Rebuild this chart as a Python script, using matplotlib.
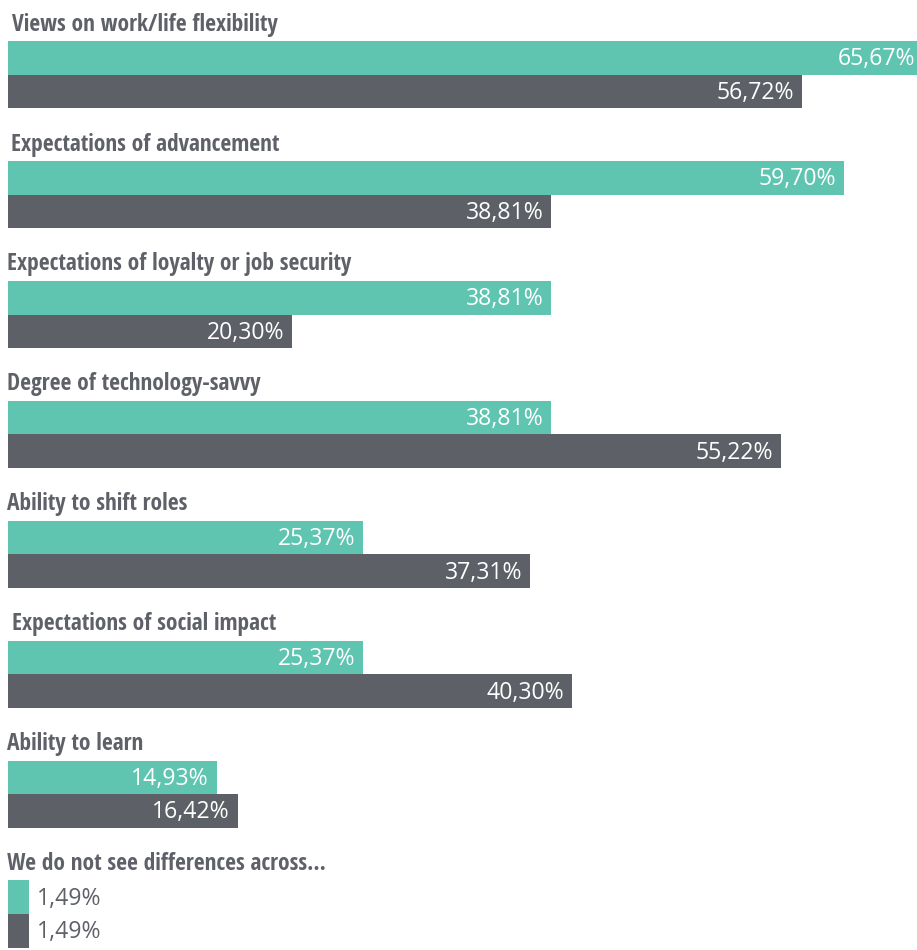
import matplotlib
matplotlib.use("Agg")
import matplotlib.pyplot as plt
import numpy as np
from matplotlib import transforms

# Survey answers, two respondent groups per statement (percent)
categories = [
    "Views on work/life flexibility",
    "Expectations of advancement",
    "Expectations of loyalty or job security",
    "Degree of technology-savvy",
    "Ability to shift roles",
    "Expectations of social impact",
    "Ability to learn",
    "We do not see differences across...",
]
share_a = [65.67, 59.70, 38.81, 38.81, 25.37, 25.37, 14.93, 1.49]
share_b = [56.72, 38.81, 20.30, 55.22, 37.31, 40.30, 16.42, 1.49]

# Styling
TEAL = "#5fc4b0"
DARK = "#5e6068"
TEXT_GREY = "#5f6169"
W, H = 917, 950
PX_PER_PCT = 14.0
LEFT = 8
PERIOD = 119.9
MID0 = 74.7
BAR_H = 33.6 / PERIOD
TITLE_X = [12, 11, 7, 7, 7, 12, 7, 7]
TITLE_FONT = dict(family="Open Sans Condensed", weight="bold", size=16.8)
VALUE_FONT = dict(family="Open Sans", weight="normal", size=16.6)

fig = plt.figure(figsize=(W / 100, H / 100), dpi=100)
ax = fig.add_axes([0, 0, 1, 1])
ax.set_xlim(-LEFT / PX_PER_PCT, (W - LEFT) / PX_PER_PCT)
ax.set_ylim((H - MID0) / PERIOD, -MID0 / PERIOD)
ax.axis("off")

y = np.arange(len(categories))
ax.barh(y - BAR_H / 2, share_a, height=BAR_H, color=TEAL, linewidth=0)
ax.barh(y + BAR_H / 2, share_b, height=BAR_H, color=DARK, linewidth=0)

# Category headings above each pair of bars
title_tr = transforms.offset_copy(
    transforms.blended_transform_factory(transforms.IdentityTransform(), ax.transData),
    fig=fig, x=0, y=44, units="dots")
for i, cat in enumerate(categories):
    ax.text(TITLE_X[i], i, cat, transform=title_tr, ha="left", va="baseline",
            color=TEXT_GREY, **TITLE_FONT)


def fmt(v):
    return f"{v:.2f}".replace(".", ",") + "%"


def value_label(v, yc):
    bar_px = v * PX_PER_PCT
    base = transforms.offset_copy(ax.transData, fig=fig, x=0, y=-7.5, units="dots")
    if bar_px > 90:
        # inside the bar, right-aligned; kept on canvas when the bar runs past the edge
        end_px = min(LEFT + bar_px - 8, W - 2)
        x = (end_px - LEFT) / PX_PER_PCT
        ax.text(x, yc, fmt(v), transform=base, ha="right", va="baseline",
                color="white", **VALUE_FONT)
    else:
        x = v + 8 / PX_PER_PCT
        ax.text(x, yc, fmt(v), transform=base, ha="left", va="baseline",
                color=TEXT_GREY, **VALUE_FONT)


for i in range(len(categories)):
    value_label(share_a[i], y[i] - BAR_H / 2)
    value_label(share_b[i], y[i] + BAR_H / 2)

fig.savefig("out.png", dpi=100)
